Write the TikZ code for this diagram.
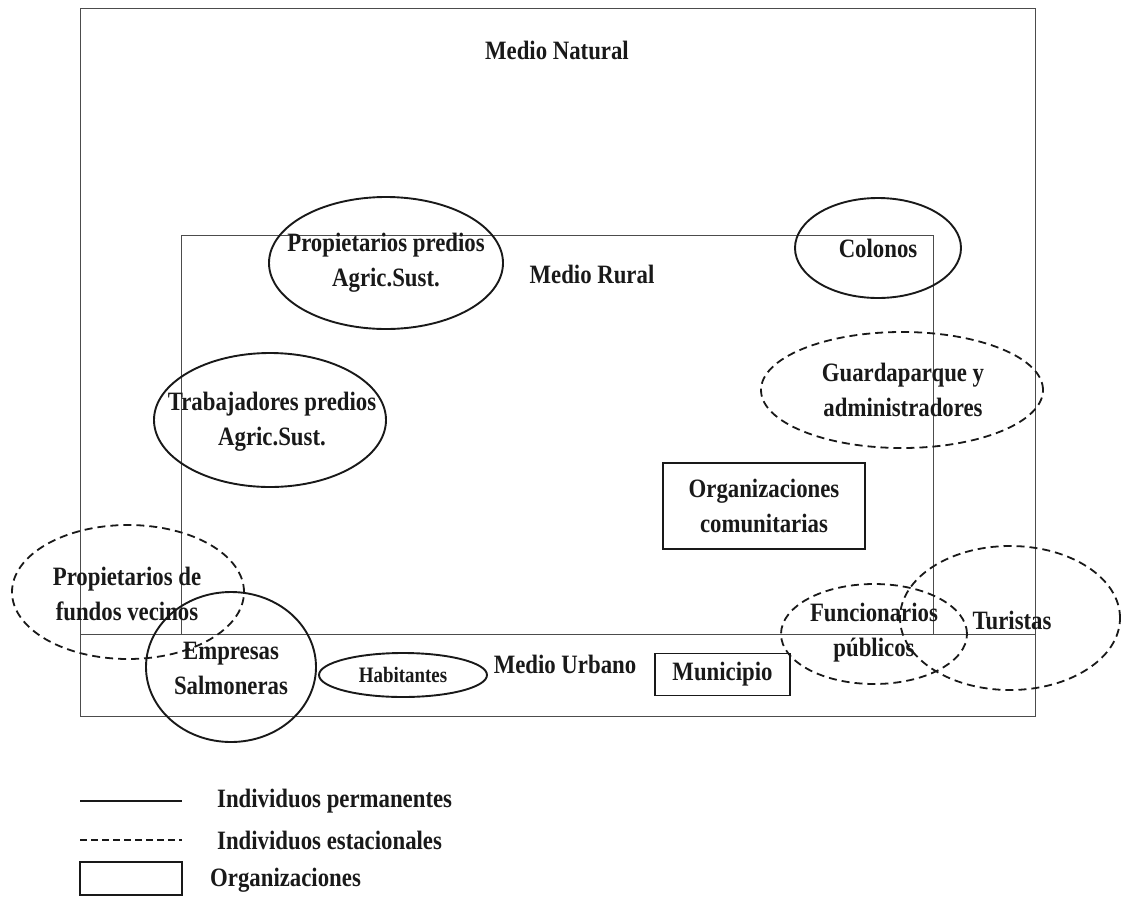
\documentclass[tikz,border=0pt]{standalone}
\usepackage{fontspec}
\setmainfont{Liberation Serif}[FakeStretch=0.86]
\usetikzlibrary{shapes.geometric}
\tikzset{
  zone/.style={draw=black!70, rectangle, line width=1pt, inner sep=0pt},
  perm/.style={draw=black!90, ellipse, line width=1.9pt, inner sep=0pt},
  seas/.style={draw=black!90, ellipse, line width=1.8pt, dash pattern=on 8pt off 5pt, inner sep=0pt},
  orgbox/.style={draw=black!90, rectangle, line width=1.8pt, inner sep=0pt},
  lbl/.style={font=\bfseries\fontsize{26.5}{35}\selectfont, align=center, inner sep=0pt, text=black!90},
  legline/.style={draw=black!90, line width=1.6pt},
}
\begin{document}
\begin{tikzpicture}[x=1pt, y=-1pt]
\useasboundingbox (0,0) rectangle (1121,900);
% zones
\node[zone, minimum width=955, minimum height=708] (nat) at (557.5,362) {};
\node[zone, minimum width=752, minimum height=399] (rur) at (557,434.5) {};
\node[zone, minimum width=955, minimum height=82] (urb) at (557.5,675) {};
\node[lbl] (tnat) at (557,50) {Medio Natural};
\node[lbl] (trur) at (592,274) {Medio Rural};
\node[lbl] (turb) at (565,664) {Medio Urbano};
% actors
\node[perm, minimum width=234, minimum height=132] (ppa) at (386,263) {};
\node[lbl] (tppa) at (ppa.center) {Propietarios predios\\Agric.Sust.};
\node[perm, minimum width=232, minimum height=134] (tpa) at (270,420) {};
\node[lbl] (ttpa) at (272,422) {Trabajadores predios\\Agric.Sust.};
\node[perm, minimum width=166, minimum height=100] (col) at (878,248) {};
\node[lbl] (tcol) at (col.center) {Colonos};
\node[seas, minimum width=282, minimum height=116] (gua) at (902,390) {};
\node[lbl] (tgua) at (903,390) {Guardaparque y\\administradores};
\node[orgbox, minimum width=202, minimum height=86] (orgc) at (764,506) {};
\node[lbl] (torgc) at (orgc.center) {Organizaciones\\comunitarias};
\node[seas, minimum width=232, minimum height=134] (fve) at (128,592) {};
\node[lbl] (tfve) at (127,594) {Propietarios de\\fundos vecinos};
\node[perm, minimum width=170, minimum height=150] (emp) at (231,667) {};
\node[lbl] (temp) at (231,668) {Empresas\\Salmoneras};
\node[perm, minimum width=168, minimum height=44] (hab) at (403,675) {};
\node[lbl, font=\bfseries\fontsize{22}{30}\selectfont] (thab) at (hab.center) {Habitantes};
\node[orgbox, minimum width=135, minimum height=42] (mun) at (722.5,674.5) {};
\node[lbl] (tmun) at (mun.center) {Municipio};
\node[seas, minimum width=186, minimum height=100] (fpu) at (874,634) {};
\node[lbl] (tfpu) at (874,633) {Funcionarios\\públicos};
\node[seas, minimum width=220, minimum height=144] (tur) at (1010,618) {};
\node[lbl] (ttur) at (1012,620) {Turistas};
% legend
\coordinate (l1a) at (80,801); \coordinate (l1b) at (182,801);
\coordinate (l2a) at (80,840); \coordinate (l2b) at (182,840);
\draw[legline] (l1a) -- (l1b);
\draw[legline, line width=1.3pt, dash pattern=on 7pt off 4pt] (l2a) -- (l2b);
\node[orgbox, line width=1.5pt, minimum width=102, minimum height=33] (lorg) at (131,878.5) {};
\node[lbl, anchor=west] (tl1) at (217,801) {Individuos permanentes};
\node[lbl, anchor=west] (tl2) at (217,840) {Individuos estacionales};
\node[lbl, anchor=west] (tl3) at (210,880) {Organizaciones};
\end{tikzpicture}
\end{document}
